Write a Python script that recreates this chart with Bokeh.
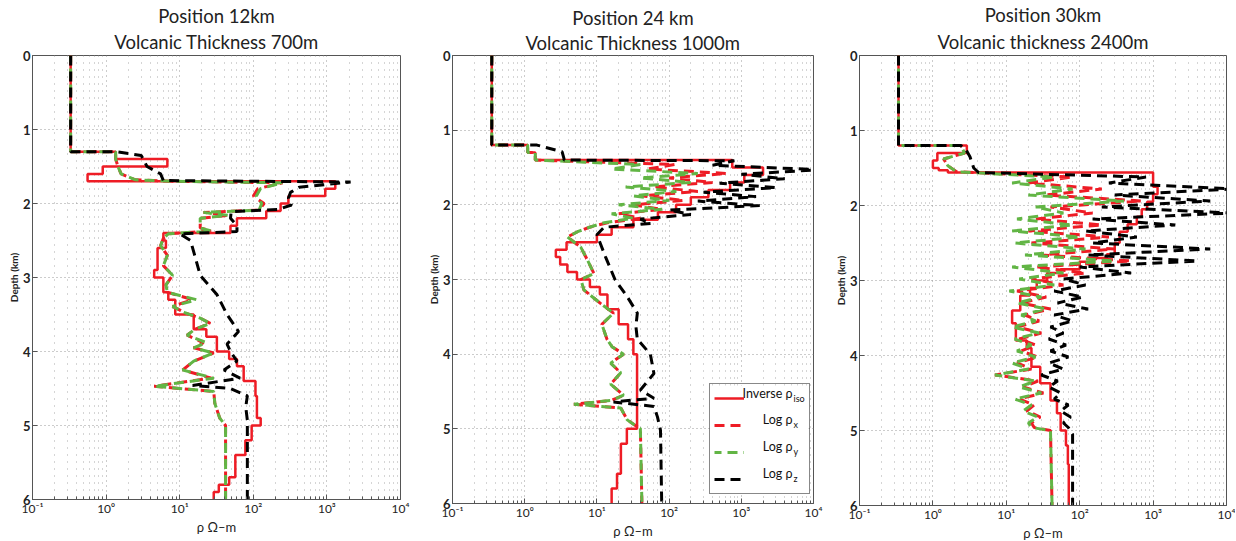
import math
from bokeh.plotting import figure
from bokeh.layouts import row
from bokeh.models import (Range1d, FixedTicker, CustomJSTickFormatter, Title,
                          Legend, LegendItem, Label, BoxAnnotation)
from bokeh.embed import file_html
from bokeh.resources import INLINE

# ---------------- axis ticks / labels ----------------
x_ticks = [0.1, 1, 10, 100, 1000, 10000]
x_tick_labels = ["10\u207b\u00b9", "10\u2070", "10\u00b9", "10\u00b2", "10\u00b3", "10\u2074"]
x_minor = [k * 10.0 ** e for e in range(-1, 4) for k in range(2, 10)]
y_ticks = [0, 1, 2, 3, 4, 5, 6]
depth_max = 6
x_min, x_max = 0.1, 10000

titles = [("Position 12km", "Volcanic Thickness 700m"),
          ("Position 24 km", "Volcanic Thickness 1000m"),
          ("Position 30km", "Volcanic thickness 2400m")]

# ---------------- Panel 1 (12 km) ----------------
p1_iso_top = [0, 1.3, 1.4, 1.5, 1.6, 1.7, 1.8, 1.9, 2.0, 2.1, 2.2, 2.3, 2.4, 2.5, 2.6, 2.9, 3.0,
              3.2, 3.3, 3.5, 3.7, 3.8, 4.0, 4.1, 4.2, 4.4, 4.6, 4.9, 5.0, 5.2, 5.4, 5.7, 5.8, 5.9]
p1_iso_val = [0.33, 1.35, 6.8, 0.9, 0.56, 1300, 950, 300, 235, 150, 60, 49, 6, 6.5, 5, 4.5, 6,
              7, 8.7, 15.5, 23, 32, 47, 60, 74, 107, 112, 126, 95, 78, 57, 47, 34, 29]
p1_y_depth = [0, 1.3, 1.3, 1.4, 1.5, 1.6, 1.68, 1.7, 1.72, 1.8, 1.9, 2.0, 2.09, 2.12, 2.16, 2.2,
              2.33, 2.37, 2.41, 2.47, 2.57, 2.7, 2.84, 2.97, 3.1, 3.2, 3.3, 3.39, 3.48, 3.55, 3.62,
              3.7, 3.78, 3.88, 3.95, 4.02, 4.13, 4.25, 4.36, 4.47, 4.54, 4.7, 4.9, 5.0, 6.0]
p1_y_val = [0.33, 0.33, 1.35, 1.35, 1.45, 1.6, 2.5, 8, 250, 125, 110, 130, 120, 21, 45, 19,
            19, 27, 7, 6, 5.5, 6.8, 6, 8, 6.5, 6.8, 17, 8, 12, 19, 26,
            16, 12.6, 23, 15.5, 29, 15.5, 11, 29, 4.5, 29, 30, 35, 42, 42]
p1_x_depth = p1_y_depth
p1_x_val = [0.33, 0.33, 1.35, 1.35, 1.45, 1.6, 2.5, 8, 250, 115, 100, 140, 120, 21, 45, 19,
            19, 27, 7, 6, 5.5, 6.8, 6, 8, 6.5, 6.8, 15, 8, 12, 19, 26,
            16, 12.6, 21, 15.5, 29, 15.5, 11, 27, 4.5, 29, 30, 35, 42, 42]
p1_z_depth = [0, 1.3, 1.3, 1.35, 1.5, 1.6, 1.69, 1.71, 1.78, 1.85, 1.93, 2.02, 2.08, 2.11, 2.2,
              2.3, 2.38, 2.41, 2.5, 2.7, 2.97, 3.23, 3.5, 3.73, 3.9, 4.0, 4.13, 4.25, 4.36, 4.46,
              4.5, 4.6, 4.75, 4.93, 6.0]
p1_z_val = [0.33, 0.33, 1.35, 3, 3.6, 5.5, 6, 2100, 420, 320, 300, 330, 220, 50, 49,
            60, 60, 10, 14, 16, 19, 32, 44, 63, 44, 49, 60, 40, 66, 15,
            49, 83, 79, 83, 83]

# ---------------- Panel 2 (24 km) ----------------
p2_iso_top = [0, 1.2, 1.3, 1.4, 1.5, 1.6, 1.7, 1.8, 1.9, 2.0, 2.1, 2.2, 2.3, 2.4, 2.5, 2.6, 2.7,
              2.8, 2.9, 3.0, 3.1, 3.2, 3.4, 3.6, 3.8, 4.0, 5.0, 5.2, 5.6, 5.8]
p2_iso_val = [0.35, 1.1, 1.4, 750, 2000, 1100, 700, 350, 200, 125, 70, 32, 16, 10, 3.8, 2.7, 3.1,
              3.9, 5.3, 8, 11, 14, 20, 27, 32, 36, 26, 21.5, 19, 16]
p2_y_depth = [0, 1.2, 1.2, 1.3, 1.3, 1.4, 1.46, 1.52, 1.58, 1.64, 1.70, 1.76, 1.82, 1.88, 1.94,
              2.00, 2.06, 2.12, 2.18, 2.24, 2.30, 2.36, 2.43, 2.57, 2.74, 2.92, 3.0, 3.14, 3.32,
              3.45, 3.6, 3.8, 3.9, 4.0, 4.12, 4.25, 4.4, 4.55, 4.62, 4.67, 4.72, 4.88, 5.0, 6.0]
p2_y_val = [0.35, 0.35, 1.1, 1.1, 1.4, 1.4, 40, 16, 250, 40, 200, 25, 126, 32, 100,
            20, 80, 16, 32, 12.6, 7.9, 5.4, 3.9, 6.0, 7.4, 9.1, 6.0, 6.6, 11.2,
            17, 11.7, 13.8, 16.2, 23.4, 15.5, 21.4, 15.5, 23.4, 15.8, 4.8, 21.4, 26.3, 40, 42]
p2_x_depth = p2_y_depth
p2_x_val = [0.35, 0.35, 1.1, 1.1, 1.4, 1.4, 120, 50, 630, 100, 400, 60, 250, 40, 160,
            32, 80, 20, 40, 14, 7.9, 5.4, 3.9, 6.0, 7.4, 9.1, 6.0, 6.6, 11.2,
            17, 11.7, 13.8, 16.2, 23.4, 15.5, 21.4, 15.5, 23.4, 15.8, 4.8, 21.4, 26.3, 40, 42]
p2_z_depth = [0, 1.2, 1.2, 1.29, 1.38, 1.40, 1.41, 1.47, 1.53, 1.59, 1.65, 1.71, 1.77, 1.83,
              1.89, 1.95, 2.01, 2.07, 2.13, 2.19, 2.25, 2.30, 2.35, 2.4, 2.7, 3.0, 3.23, 3.45,
              3.63, 3.8, 4.0, 4.26, 4.48, 4.59, 4.64, 4.7, 4.84, 5.02, 6.0]
p2_z_val = [0.35, 0.35, 1.48, 3.3, 3.5, 3.5, 800, 400, 12600, 1000, 4000, 500, 3000, 300,
            1600, 250, 1800, 100, 200, 40, 56, 12.6, 11.2, 10, 13.2, 17.8, 26.3, 36.3,
            34.7, 36.3, 55, 61.7, 40, 61.7, 17, 61.7, 69, 76, 79]

# ---------------- Panel 3 (30 km) ----------------
p3_iso_top = [0, 1.2, 1.3, 1.4, 1.5, 1.53, 1.56, 1.75, 1.85, 1.95, 2.05, 2.15, 2.25, 2.35, 2.5,
              2.65, 2.7, 2.75, 2.85, 2.9, 3.0, 3.1, 3.2, 3.4, 3.57, 3.8, 3.9, 4.15, 4.37, 4.6,
              4.77, 5.0, 5.2, 5.45]
p3_iso_val = [0.34, 2.9, 1.15, 1.0, 1.2, 1.6, 1000, 1150, 1000, 830, 700, 600, 450, 350, 300,
              235, 155, 100, 55, 36, 26, 21, 15.5, 12, 13.5, 19, 22, 29, 40, 49,
              55, 65, 69, 71]
p3_y_depth = [0, 1.2, 1.2, 1.3, 1.38, 1.47, 1.55, 1.62, 1.70, 1.78, 1.86, 1.94, 2.02, 2.10,
              2.18, 2.26, 2.34, 2.42, 2.50, 2.58, 2.66, 2.74, 2.82, 2.90, 2.98, 3.06, 3.14,
              3.22, 3.30, 3.38, 3.46, 3.54, 3.62, 3.70, 3.78, 3.86, 3.94, 4.02, 4.10, 4.18,
              4.26, 4.34, 4.42, 4.50, 4.58, 4.66, 4.74, 4.82, 4.90, 4.96, 5.0, 6.0]
p3_y_val = [0.34, 0.34, 2.4, 2.7, 1.4, 1.6, 2.1, 45, 12, 80, 20, 400, 25, 60,
            14, 80, 12, 100, 13, 120, 18, 300, 12, 60, 15, 45, 11,
            30, 14, 35, 16, 25, 12, 28, 13, 22, 14, 25, 12, 20,
            7, 25, 15, 30, 13, 22, 17, 27, 20, 22, 40, 42]
p3_x_depth = p3_y_depth
p3_x_val = [0.34, 0.34, 2.4, 2.7, 1.4, 1.6, 2.1, 80, 20, 200, 35, 700, 40, 150,
            25, 200, 20, 250, 22, 300, 30, 500, 25, 120, 22, 60, 14,
            35, 16, 40, 18, 28, 14, 30, 15, 25, 16, 27, 14, 22,
            7, 27, 17, 32, 15, 24, 19, 29, 22, 24, 40, 42]
p3_z_depth = [0, 1.2, 1.2, 1.25, 1.35, 1.5, 1.56, 1.62, 1.70, 1.78, 1.86, 1.94, 2.02, 2.10,
              2.18, 2.26, 2.34, 2.42, 2.50, 2.58, 2.66, 2.74, 2.82, 2.90, 2.98, 3.06, 3.14,
              3.22, 3.30, 3.38, 3.46, 3.54, 3.62, 3.70, 3.78, 3.86, 3.94, 4.02, 4.10, 4.18,
              4.26, 4.34, 4.42, 4.50, 4.58, 4.66, 4.74, 4.82, 4.90, 4.96, 5.05, 6.0]
p3_z_val = [0.34, 0.34, 2.4, 2.8, 3.2, 3.6, 4.2, 800, 250, 12000, 300, 6000, 200, 12000,
            150, 2000, 120, 600, 150, 6000, 130, 4000, 100, 500, 60, 120, 45,
            110, 50, 130, 45, 80, 40, 60, 38, 65, 40, 70, 38, 60,
            30, 50, 38, 55, 45, 70, 55, 75, 60, 70, 80, 80]

legend_labels = [("Inverse \u03c1", "iso"), ("Log \u03c1", "x"), ("Log \u03c1", "y"), ("Log \u03c1", "z")]

RED = "#ee1c25"
GREEN = "#62b545"
BLACK = "#000000"
FONT = "Lato"


def step_xy(tops, vals, bottom):
    bounds = list(tops) + [bottom]
    xs, ys = [], []
    for i, v in enumerate(vals):
        xs += [v, v]
        ys += [bounds[i], bounds[i + 1]]
    return xs, ys


def frame_px_to_data(px_left, px_top, fw, fh):
    """convert a pixel offset inside a frame (from its top-left) to data coordinates"""
    l0, l1 = math.log10(x_min), math.log10(x_max)
    return 10 ** (l0 + (l1 - l0) * px_left / fw), depth_max * px_top / fh


def make_panel(idx, iso_top, iso_val, xd, xv, yd, yv, zd, zv, geom):
    left, right, top, bottom, fw, fh = geom
    p = figure(x_axis_type="log", x_range=Range1d(x_min, x_max), y_range=Range1d(depth_max, 0),
               frame_width=fw, frame_height=fh, min_border_left=left, min_border_right=right,
               min_border_top=top, min_border_bottom=bottom, title=None,
               output_backend="svg", toolbar_location=None, background_fill_color="white")
    t2 = Title(text=titles[idx][1], align="center", text_font=FONT, text_font_size="18.5px",
               text_font_style="normal", text_color="#222222", standoff=max(top - 49, 0))
    t1 = Title(text=titles[idx][0], align="center", text_font=FONT, text_font_size="18.5px",
               text_font_style="normal", text_color="#222222", standoff=0)
    p.add_layout(t2, "above")
    p.add_layout(t1, "above")

    p.xaxis.ticker = FixedTicker(ticks=x_ticks, minor_ticks=x_minor)
    p.xaxis.formatter = CustomJSTickFormatter(args=dict(tv=x_ticks, tl=x_tick_labels), code="""
        let best = 0, bd = Infinity;
        for (let i = 0; i < tv.length; i++) {
            const d = Math.abs(Math.log10(tick) - Math.log10(tv[i]));
            if (d < bd) { bd = d; best = i; }
        }
        return tl[best];
    """)
    p.yaxis.ticker = FixedTicker(ticks=y_ticks, minor_ticks=[])
    for ax in (p.xaxis, p.yaxis):
        ax.axis_line_color = "#555555"
        ax.major_tick_in = 5
        ax.major_tick_out = 0
        ax.minor_tick_in = 3
        ax.minor_tick_out = 0
        ax.major_tick_line_color = "#555555"
        ax.minor_tick_line_color = "#555555"
        ax.major_label_text_font = FONT
        ax.major_label_text_font_size = "13px"
        ax.major_label_text_color = "#222222"
        ax.major_label_standoff = 2
        ax.axis_label_standoff = 0
        ax.axis_label_text_font = FONT
        ax.axis_label_text_color = "#222222"
    p.xaxis.major_label_text_font_size = "12px"
    p.xaxis.major_label_standoff = 1
    p.yaxis.major_label_text_font_style = "bold"
    p.yaxis.axis_label = "Depth (km)"
    p.yaxis.axis_label_text_font_size = "10px"
    p.yaxis.axis_label_text_font_style = "bold"
    p.xaxis.axis_label = "\u03c1 \u03a9\u2013m"
    p.xaxis.axis_label_text_font_size = "13px"
    p.xaxis.axis_label_text_font_style = "normal"

    p.outline_line_color = "#555555"
    p.outline_line_width = 1
    p.xgrid.grid_line_color = "#999999"
    p.xgrid.grid_line_dash = "1 4"
    p.xgrid.minor_grid_line_color = "#aaaaaa"
    p.xgrid.minor_grid_line_dash = "1 6"
    p.ygrid.grid_line_color = "#999999"
    p.ygrid.grid_line_dash = "1 3"

    sx, sy = step_xy(iso_top, iso_val, depth_max)
    r_iso = p.line(sx, sy, line_color=RED, line_width=2.5)
    r_x = p.line(xv, xd, line_color=RED, line_width=3, line_dash="10 6")
    r_y = p.line(yv, yd, line_color=GREEN, line_width=3, line_dash="10 6", line_dash_offset=3)
    r_z = p.line(zv, zd, line_color=BLACK, line_width=3, line_dash="10 6")
    return p, [r_iso, r_x, r_y, r_z]


P2_FW, P2_FH = 361, 448
p1, _ = make_panel(0, p1_iso_top, p1_iso_val, p1_x_depth, p1_x_val, p1_y_depth, p1_y_val,
                   p1_z_depth, p1_z_val, (32, 20, 54, 43, 368, 444))
p2, rens = make_panel(1, p2_iso_top, p2_iso_val, p2_x_depth, p2_x_val, p2_y_depth, p2_y_val,
                      p2_z_depth, p2_z_val, (32, 12, 52, 41, P2_FW, P2_FH))
p3, _ = make_panel(2, p3_iso_top, p3_iso_val, p3_x_depth, p3_x_val, p3_y_depth, p3_y_val,
                   p3_z_depth, p3_z_val, (34, 9, 55, 34, 367, 450))

# ---- legend in panel 2: white backing box, legend glyphs, texts with subscripts ----
LEG_L, LEG_R, LEG_T, LEG_B = 257, 356, 330, 439    # px inside the frame
bl, bt = frame_px_to_data(LEG_L, LEG_T, P2_FW, P2_FH)
br, bb = frame_px_to_data(LEG_R, LEG_B, P2_FW, P2_FH)
p2.add_layout(BoxAnnotation(left=bl, right=br, top=bt, bottom=bb, fill_color="white",
                            fill_alpha=1.0, line_alpha=0, level="underlay"))
items = [LegendItem(label=" ", renderers=[r]) for r in rens]
leg = Legend(items=items, location=(LEG_L, P2_FH - LEG_B), padding=4, spacing=7,
             glyph_width=30, glyph_height=20, label_standoff=0, label_width=61,
             label_text_font_size="12px", border_line_color="#111111",
             border_line_width=1.5, background_fill_alpha=0.0, margin=0)
p2.add_layout(leg, "center")
text_right_px = 340                 # right end of "ρ" inside the legend, px from frame left
row_top_px = [338, 364, 391, 418]   # text centres, px from frame top
for (main, sub), ty in zip(legend_labels, row_top_px):
    mx, my = frame_px_to_data(text_right_px, ty, P2_FW, P2_FH)
    sx_, sy_ = frame_px_to_data(text_right_px + 1, ty + 5, P2_FW, P2_FH)
    p2.add_layout(Label(x=mx, y=my, text=main, text_align="right", text_baseline="middle",
                        text_font=FONT, text_font_size="12.5px", text_color="#111111"))
    p2.add_layout(Label(x=sx_, y=sy_, text=sub, text_align="left", text_baseline="middle",
                        text_font=FONT, text_font_size="9px", text_color="#111111"))

layout = row(p1, p2, p3)
open("out.html", "w").write(file_html(layout, INLINE))
